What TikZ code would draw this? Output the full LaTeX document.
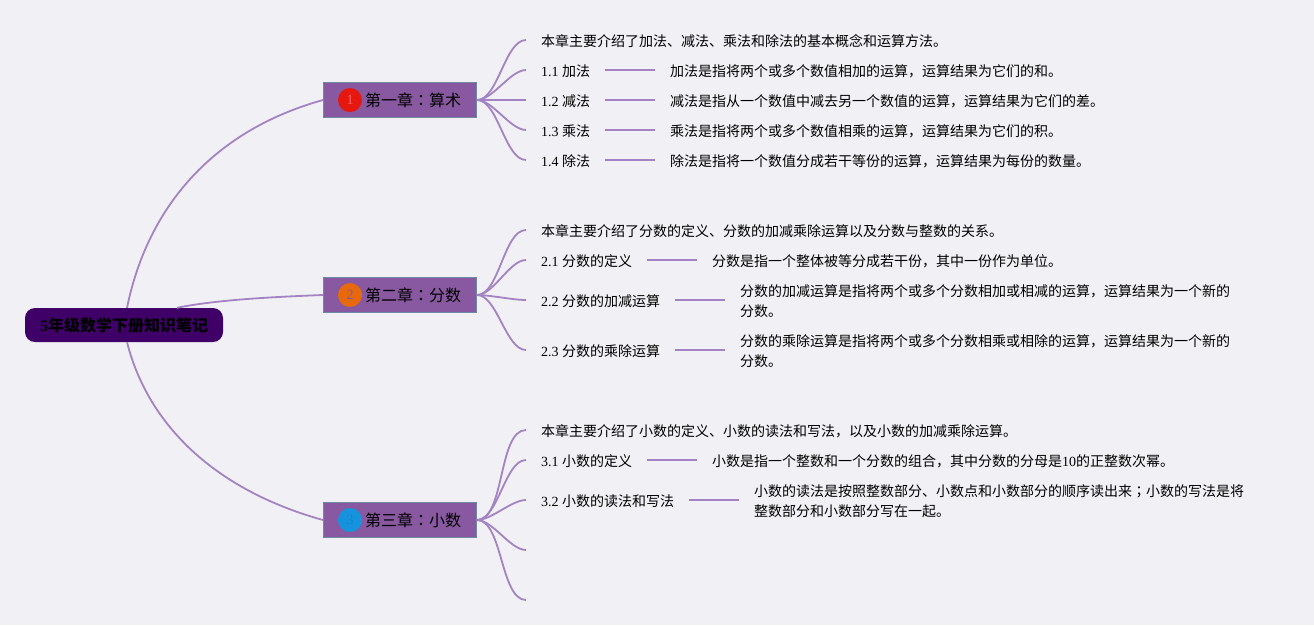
\documentclass[tikz,border=0pt]{standalone}
\usepackage{fontspec}
\setmainfont{Noto Sans CJK SC}
\newfontfamily\latinf{Liberation Serif}
\newfontfamily\jpf{Noto Sans CJK JP}
\newcommand{\lat}[1]{{\latinf #1}}
\newcommand{\jpc}[1]{{\jpf #1}}
\definecolor{pagebg}{HTML}{F1F1F5}
\definecolor{linec}{HTML}{A383C3}
\definecolor{rootc}{HTML}{3F0068}
\definecolor{chapc}{HTML}{8858A0}
\definecolor{chapb}{HTML}{6E8AA0}
\definecolor{badgea}{HTML}{E5170F}
\definecolor{badgeb}{HTML}{E8690B}
\definecolor{badgec}{HTML}{1793DD}
\tikzset{
  rootbox/.style={shape=rectangle,rounded corners=10pt,fill=rootc,minimum width=198pt,minimum height=34pt,inner sep=0pt,font=\fontsize{16pt}{20pt}\selectfont\bfseries},
  chapter/.style={shape=rectangle,draw=chapb,fill=chapc,line width=1pt,minimum width=153pt,minimum height=35pt,inner sep=0pt,font=\fontsize{16pt}{20pt}\selectfont},
  badge/.style={shape=circle,minimum size=24pt,inner sep=0pt,font=\fontsize{14pt}{16pt}\selectfont},
  leaf/.style={anchor=west,inner xsep=15pt,inner ysep=0pt,align=left,text height=14pt,text depth=1.4pt,font=\fontsize{14pt}{20pt}\selectfont},
  wrapleaf/.style={leaf,text height=34pt},
  branch/.style={draw=linec,line width=1.8pt,out=0,in=180,looseness=0.7},
  link/.style={draw=linec,line width=1.8pt},
  trunk/.style={draw=linec,line width=1.8pt}
}
\begin{document}
\begin{tikzpicture}[x=1pt,y=-1pt]
  \fill[pagebg] (0,0) rectangle (1314,625);
  \useasboundingbox (0,0) rectangle (1314,625);

  \node[rootbox] (root) at (124,325) {\lat{5}年级数学下册知识笔记};

  \node[chapter] (c1) at (400,100) {\hspace{26pt}第一章\jpc{：}算术};
  \node[chapter] (c2) at (400,295) {\hspace{26pt}第二章\jpc{：}分数};
  \node[chapter] (c3) at (400,520) {\hspace{26pt}第三章\jpc{：}小数};

  \node[badge,fill=badgea,text=red!60!white] (b1) at (350,100) {\lat{1}};
  \node[badge,fill=badgeb,text=chapc] (b2) at (350,295) {\lat{2}};
  \node[badge,fill=badgec,text=cyan!70!blue] (b3) at (350,520) {\lat{3}};

  \node[leaf] (a0) at (526,40) {本章主要介绍了加法、减法、乘法和除法的基本概念和运算方法。};
  \node[leaf] (a1) at (526,70) {\lat{1.1 }加法};
  \node[leaf] (a2) at (526,100) {\lat{1.2 }减法};
  \node[leaf] (a3) at (526,130) {\lat{1.3 }乘法};
  \node[leaf] (a4) at (526,160) {\lat{1.4 }除法};
  \node[leaf] (d1) at (655,70) {加法是指将两个或多个数值相加的运算，运算结果为它们的和。};
  \node[leaf] (d2) at (655,100) {减法是指从一个数值中减去另一个数值的运算，运算结果为它们的差。};
  \node[leaf] (d3) at (655,130) {乘法是指将两个或多个数值相乘的运算，运算结果为它们的积。};
  \node[leaf] (d4) at (655,160) {除法是指将一个数值分成若干等份的运算，运算结果为每份的数量。};

  \node[leaf] (e0) at (526,230) {本章主要介绍了分数的定义、分数的加减乘除运算以及分数与整数的关系。};
  \node[leaf] (e1) at (526,260) {\lat{2.1 }分数的定义};
  \node[leaf] (e2) at (526,300) {\lat{2.2 }分数的加减运算};
  \node[leaf] (e3) at (526,350) {\lat{2.3 }分数的乘除运算};
  \node[leaf] (f1) at (697,260) {分数是指一个整体被等分成若干份，其中一份作为单位。};
  \node[wrapleaf] (f2) at (725,300) {分数的加减运算是指将两个或多个分数相加或相减的运算，运算结果为一个新的\\分数。};
  \node[wrapleaf] (f3) at (725,350) {分数的乘除运算是指将两个或多个分数相乘或相除的运算，运算结果为一个新的\\分数。};

  \node[leaf] (g0) at (526,430) {本章主要介绍了小数的定义、小数的读法和写法，以及小数的加减乘除运算。};
  \node[leaf] (g1) at (526,460) {\lat{3.1 }小数的定义};
  \node[leaf] (g2) at (526,500) {\lat{3.2 }小数的读法和写法};
  \coordinate (g3) at (526,550);
  \coordinate (g4) at (526,600);
  \node[leaf] (h1) at (697,460) {小数是指一个整数和一个分数的组合，其中分数的分母是\lat{10}的正整数次幂。};
  \node[wrapleaf] (h2) at (739,500) {小数的读法是按照整数部分、小数点和小数部分的顺序读出来\jpc{；}小数的写法是将\\整数部分和小数部分写在一起。};

  \path[trunk] (root.80) .. controls (148,205) and (215,130) .. (c1.west);
  \path[trunk] (root.18) .. controls (215,300) and (270,297) .. (c2.west);
  \path[trunk] (root.-80) .. controls (148,425) and (215,490) .. (c3.west);

  \path (c1.east) edge[branch] (a0.west);
  \path (c1.east) edge[branch] (a1.west);
  \path (c1.east) edge[branch] (a2.west);
  \path (c1.east) edge[branch] (a3.west);
  \path (c1.east) edge[branch] (a4.west);
  \path (a1) edge[link] (d1);
  \path (a2) edge[link] (d2);
  \path (a3) edge[link] (d3);
  \path (a4) edge[link] (d4);

  \path (c2.east) edge[branch] (e0.west);
  \path (c2.east) edge[branch] (e1.west);
  \path (c2.east) edge[branch] (e2.west);
  \path (c2.east) edge[branch] (e3.west);
  \path (e1) edge[link] (f1);
  \path (e2) edge[link] (f2);
  \path (e3) edge[link] (f3);

  \path (c3.east) edge[branch] (g0.west);
  \path (c3.east) edge[branch] (g1.west);
  \path (c3.east) edge[branch] (g2.west);
  \path (c3.east) edge[branch] (g3);
  \path (c3.east) edge[branch] (g4);
  \path (g1) edge[link] (h1);
  \path (g2) edge[link] (h2);
\end{tikzpicture}
\end{document}
